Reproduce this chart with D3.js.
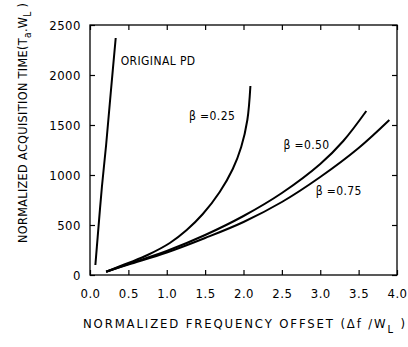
<!DOCTYPE html>
<html>
<head>
<meta charset="utf-8">
<script src="https://cdn.jsdelivr.net/npm/d3@7"></script>
<style>
  body { margin: 0; background: #fff; }
  text { font-family: "DejaVu Sans Condensed", "DejaVu Sans", sans-serif; fill: #000; }
</style>
</head>
<body>
<svg width="408" height="347"></svg>
<script>
// values
var xTicks = [0, 0.5, 1.0, 1.5, 2.0, 2.5, 3.0, 3.5, 4.0];
var yTicks = [0, 500, 1000, 1500, 2000, 2500];

var originalPD = [[0.07, 100], [0.10, 380], [0.155, 880], [0.21, 1300], [0.27, 1820], [0.335, 2370]];
var beta25 = [[0.21, 33], [0.5, 120], [0.75, 200], [1.04, 320], [1.26, 450], [1.47, 610], [1.69, 830],
              [1.86, 1060], [1.97, 1280], [2.05, 1550], [2.09, 1890]];
var beta50 = [[0.21, 33], [0.5, 110], [1.0, 240], [1.5, 400], [2.0, 590], [2.5, 820], [3.0, 1110],
              [3.3, 1340], [3.6, 1640]];
var beta75 = [[0.21, 33], [0.5, 105], [1.0, 225], [1.5, 370], [2.0, 530], [2.5, 730], [3.0, 980],
              [3.5, 1270], [3.9, 1550]];

var curveLabels = [
    {text: "ORIGINAL PD", x: 0.40, y: 2140},
    {text: "\u03b2  =0.25", x: 1.29, y: 1590},
    {text: "\u03b2  =0.50", x: 2.52, y: 1305},
    {text: "\u03b2  =0.75", x: 2.94, y: 845}
];

var svg = d3.select("svg");
var xScale = d3.scaleLinear().domain([0, 4]).range([90, 397]);
var yScale = d3.scaleLinear().domain([0, 2500]).range([275, 25]);

// frame
svg.append("rect")
    .attr("x", xScale(0)).attr("y", yScale(2500))
    .attr("width", xScale(4) - xScale(0)).attr("height", yScale(0) - yScale(2500))
    .attr("fill", "none").attr("stroke", "#000").attr("stroke-width", 1.3);

// inward ticks on all sides
var tl = 5;
svg.append("g").attr("transform", "translate(0," + yScale(0) + ")")
    .call(d3.axisBottom(xScale).tickValues(xTicks).tickSize(-tl).tickPadding(14)
        .tickFormat(d3.format(".1f")))
    .call(g => g.select(".domain").remove());
svg.append("g").attr("transform", "translate(0," + yScale(2500) + ")")
    .call(d3.axisTop(xScale).tickValues(xTicks).tickSize(-tl).tickFormat(""))
    .call(g => g.select(".domain").remove());
svg.append("g").attr("transform", "translate(" + xScale(0) + ",0)")
    .call(d3.axisLeft(yScale).tickValues(yTicks).tickSize(-tl).tickPadding(9)
        .tickFormat(d3.format("d")))
    .call(g => g.select(".domain").remove());
svg.append("g").attr("transform", "translate(" + xScale(4) + ",0)")
    .call(d3.axisRight(yScale).tickValues(yTicks).tickSize(-tl).tickFormat(""))
    .call(g => g.select(".domain").remove());

svg.selectAll(".tick line").attr("stroke", "#000").attr("stroke-width", 1.2);
svg.selectAll(".tick text").style("font-size", "13px").attr("letter-spacing", "0.5px")
    .style("font-family", "'DejaVu Sans Condensed', sans-serif");

// curves
var line = d3.line()
    .x(d => xScale(d[0]))
    .y(d => yScale(d[1]))
    .curve(d3.curveCatmullRom.alpha(0.5));

[originalPD, beta25, beta50, beta75].forEach(function (s) {
    svg.append("path")
        .datum(s)
        .attr("fill", "none")
        .attr("stroke", "#000")
        .attr("stroke-width", 2)
        .attr("d", line);
});

svg.selectAll(".clabel")
    .data(curveLabels)
    .enter().append("text")
    .attr("class", "clabel")
    .attr("x", d => xScale(d.x))
    .attr("y", d => yScale(d.y))
    .attr("dy", "0.35em")
    .style("font-size", "12px")
    .attr("letter-spacing", "0.4px")
    .text(d => d.text);

// axis titles
var xt = svg.append("text")
    .attr("x", 83).attr("y", 328)
    .style("font-size", "13px")
    .attr("textLength", 322)
    .attr("lengthAdjust", "spacing");
xt.append("tspan").text("NORMALIZED FREQUENCY OFFSET (\u0394f /W");
xt.append("tspan").attr("dy", 5).style("font-size", "11px").text("L");
xt.append("tspan").attr("dy", -5).text(" )");

var yt = svg.append("text")
    .attr("transform", "translate(27,243) rotate(-90)")
    .style("font-size", "12.5px")
    .attr("textLength", 240)
    .attr("lengthAdjust", "spacing");
yt.append("tspan").text("NORMALIZED ACQUISITION TIME(T");
yt.append("tspan").attr("dy", 4).style("font-size", "10px").text("a");
yt.append("tspan").attr("dy", -4).text(".W");
yt.append("tspan").attr("dy", 4).style("font-size", "10px").text("L");
yt.append("tspan").attr("dy", -4).text(" )");
</script>
</body>
</html>
